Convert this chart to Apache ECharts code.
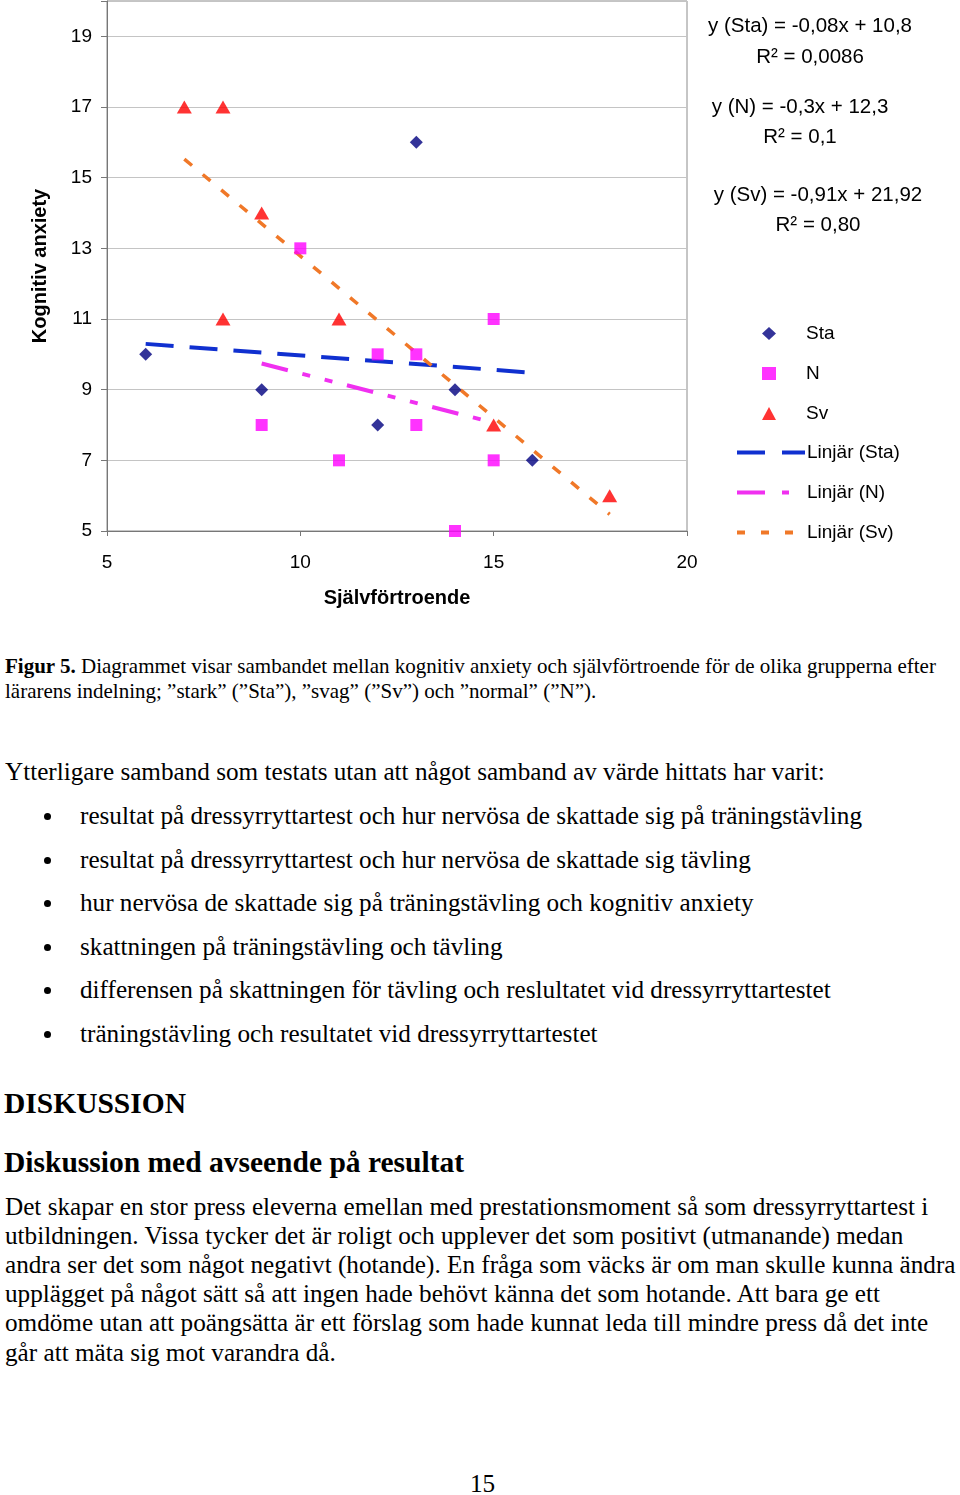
<!DOCTYPE html>
<html>
<head>
<meta charset="utf-8">
<script src="https://cdn.jsdelivr.net/npm/echarts@6/dist/echarts.min.js"></script>
<style>
  html, body { margin: 0; padding: 0; background: #fff; }
  #page { position: relative; width: 960px; height: 1495px; overflow: hidden; background: #fff; }
  #chart { position: absolute; left: 0; top: 0; width: 960px; height: 620px; }
  .t { position: absolute; white-space: nowrap; font-family: "Liberation Serif", "Times New Roman", serif; color: #000; }
  .cap { font-size: 21px; line-height: 26px; }
  .body { font-size: 25.2px; line-height: 30px; }
  .dot { position: absolute; width: 7px; height: 7px; border-radius: 50%; background: #000; }
</style>
</head>
<body>
<div id="page">
  <div id="chart"></div>

  <div class="t cap" style="left:5px; top:653px;"><b>Figur 5.</b> Diagrammet visar sambandet mellan kognitiv anxiety och självförtroende för de olika grupperna efter</div>
  <div class="t cap" style="left:5px; top:678px;">lärarens indelning; ”stark” (”Sta”), ”svag” (”Sv”) och ”normal” (”N”).</div>

  <div class="t body" style="left:5px; top:757px;">Ytterligare samband som testats utan att något samband av värde hittats har varit:</div>

  <div class="dot" style="left:44px; top:813px;"></div>
  <div class="t body" style="left:80px; top:801px;">resultat på dressyrryttartest och hur nervösa de skattade sig på träningstävling</div>
  <div class="dot" style="left:44px; top:857px;"></div>
  <div class="t body" style="left:80px; top:845px;">resultat på dressyrryttartest och hur nervösa de skattade sig tävling</div>
  <div class="dot" style="left:44px; top:900px;"></div>
  <div class="t body" style="left:80px; top:888px;">hur nervösa de skattade sig på träningstävling och kognitiv anxiety</div>
  <div class="dot" style="left:44px; top:944px;"></div>
  <div class="t body" style="left:80px; top:932px;">skattningen på träningstävling och tävling</div>
  <div class="dot" style="left:44px; top:987px;"></div>
  <div class="t body" style="left:80px; top:975px;">differensen på skattningen för tävling och reslultatet vid dressyrryttartestet</div>
  <div class="dot" style="left:44px; top:1031px;"></div>
  <div class="t body" style="left:80px; top:1019px;">träningstävling och resultatet vid dressyrryttartestet</div>

  <div class="t" style="left:4px; top:1086px; font-size:29.5px; line-height:34px; font-weight:bold;">DISKUSSION</div>
  <div class="t" style="left:4px; top:1145px; font-size:29.5px; line-height:34px; font-weight:bold;">Diskussion med avseende på resultat</div>

  <div class="t body" style="left:5px; top:1192px;">Det skapar en stor press eleverna emellan med prestationsmoment så som dressyrryttartest i</div>
  <div class="t body" style="left:5px; top:1221px;">utbildningen. Vissa tycker det är roligt och upplever det som positivt (utmanande) medan</div>
  <div class="t body" style="left:5px; top:1250px;">andra ser det som något negativt (hotande). En fråga som väcks är om man skulle kunna ändra</div>
  <div class="t body" style="left:5px; top:1279px;">upplägget på något sätt så att ingen hade behövt känna det som hotande. Att bara ge ett</div>
  <div class="t body" style="left:5px; top:1308px;">omdöme utan att poängsätta är ett förslag som hade kunnat leda till mindre press då det inte</div>
  <div class="t body" style="left:5px; top:1338px;">går att mäta sig mot varandra då.</div>

  <div class="t body" style="left:470px; top:1469px;">15</div>
</div>

<script>
// ---- data ----
const xTicks = [5, 10, 15, 20];
const yTicks = [5, 7, 9, 11, 13, 15, 17, 19];
const seriesNames = ['Sta', 'N', 'Sv'];
const trendNames = ['Linjär (Sta)', 'Linjär (N)', 'Linjär (Sv)'];
const staX = [6, 9, 12, 13, 14, 16];
const staY = [10, 9, 8, 16, 9, 7];
const nX = [9, 10, 11, 12, 13, 13, 14, 15, 15];
const nY = [8, 13, 7, 10, 10, 8, 5, 11, 7];
const svX = [7, 8, 8, 9, 11, 15, 18];
const svY = [17, 17, 11, 14, 11, 8, 6];
const eqLines = ['y (Sta) = -0,08x + 10,8', 'R² = 0,0086', 'y (N) = -0,3x + 12,3', 'R² = 0,1', 'y (Sv) = -0,91x + 21,92', 'R² = 0,80'];

function pairs(xs, ys) { return xs.map((x, i) => [x, ys[i]]); }
function trend(xs, ys) {
  const n = xs.length;
  const mx = xs.reduce((a, b) => a + b, 0) / n;
  const my = ys.reduce((a, b) => a + b, 0) / n;
  let sxy = 0, sxx = 0;
  for (let i = 0; i < n; i++) { sxy += (xs[i] - mx) * (ys[i] - my); sxx += (xs[i] - mx) ** 2; }
  const b = sxy / sxx, a = my - b * mx;
  const x0 = Math.min(...xs), x1 = Math.max(...xs);
  return [[x0, a + b * x0], [x1, a + b * x1]];
}

const FONT = '"Liberation Sans", Arial, sans-serif';
const chart = echarts.init(document.getElementById('chart'), null, { renderer: 'canvas' });

const eqPos = [[810, 26], [810, 57], [800, 107], [800, 137], [818, 195], [818, 225]];
const colors = { sta: '#000080', n: '#ff00ff', sv: '#ff0000', tSta: '#1030d0', tN: '#f030f0', tSv: '#f07828' };
const dashSta = [28, 16], dashN = [27, 15, 8, 15, 8, 15], dashSv = [10, 14];

chart.setOption({
  animation: false,
  textStyle: { fontFamily: FONT },
  grid: { left: 107, right: 273, top: 1, bottom: 89, show: true, borderColor: '#8c8c8c', borderWidth: 1 },
  xAxis: {
    type: 'value', min: xTicks[0], max: xTicks[xTicks.length - 1], interval: 5,
    axisLine: { show: true, lineStyle: { color: '#777', width: 1 } },
    axisTick: { show: true, length: 5, lineStyle: { color: '#777' } },
    axisLabel: { fontSize: 19, color: '#000', margin: 22, fontFamily: FONT },
    splitLine: { show: false },
    name: 'Självförtroende', nameLocation: 'middle', nameGap: 57,
    nameTextStyle: { fontSize: 20, fontWeight: 'bold', color: '#000', fontFamily: FONT }
  },
  yAxis: {
    type: 'value', min: yTicks[0], max: 20, interval: 2,
    axisLine: { show: true, lineStyle: { color: '#777', width: 1 } },
    axisTick: { show: true, length: 6, lineStyle: { color: '#777' } },
    axisLabel: { fontSize: 19, color: '#000', margin: 15, fontFamily: FONT,
      formatter: v => yTicks.indexOf(v) >= 0 ? String(v) : '' },
    splitLine: { show: true, lineStyle: { color: '#c4c4c4', width: 1 } },
    name: 'Kognitiv anxiety', nameLocation: 'middle', nameGap: 57,
    nameTextStyle: { fontSize: 20, fontWeight: 'bold', color: '#000', fontFamily: FONT }
  },
  legend: [
    {
      orient: 'vertical', left: 757, top: 319, itemWidth: 14, itemHeight: 13, itemGap: 21,
      textStyle: { fontSize: 19, color: '#000', fontFamily: FONT, padding: [0, 0, 0, 25] },
      data: [
        { name: seriesNames[0], icon: 'diamond' },
        { name: seriesNames[1], icon: 'rect' },
        { name: seriesNames[2], icon: 'triangle' }
      ]
    },
    {
      orient: 'vertical', left: 730, top: 438, itemWidth: 68, itemHeight: 13, itemGap: 21,
      textStyle: { fontSize: 19, color: '#000', fontFamily: FONT, padding: [0, 0, 0, -3] },
      data: [
        { name: trendNames[0], itemStyle: { opacity: 0 }, lineStyle: { width: 4, type: [28, 17] } },
        { name: trendNames[1], itemStyle: { opacity: 0 }, lineStyle: { width: 4, type: [28, 17, 7, 30] } },
        { name: trendNames[2], itemStyle: { opacity: 0 }, lineStyle: { width: 4, type: [8, 16] } }
      ]
    }
  ],
  graphic: eqLines.map((t, i) => ({
    type: 'text', x: eqPos[i][0], y: eqPos[i][1],
    style: { text: t, font: '20.5px ' + FONT, fill: '#000', textAlign: 'center', textVerticalAlign: 'middle' }
  })),
  series: [
    { name: seriesNames[0], type: 'scatter', symbol: 'diamond', symbolSize: 13, itemStyle: { color: colors.sta }, data: pairs(staX, staY), z: 5 },
    { name: seriesNames[1], type: 'scatter', symbol: 'rect', symbolSize: 12, itemStyle: { color: colors.n }, data: pairs(nX, nY), z: 5 },
    { name: seriesNames[2], type: 'scatter', symbol: 'triangle', symbolSize: [15, 13], itemStyle: { color: colors.sv }, data: pairs(svX, svY), z: 5 },
    { name: trendNames[0], type: 'line', symbol: 'none', showSymbol: false, data: trend(staX, staY), z: 3,
      itemStyle: { color: colors.tSta }, lineStyle: { color: colors.tSta, width: 4, type: dashSta } },
    { name: trendNames[1], type: 'line', symbol: 'none', showSymbol: false, data: trend(nX, nY), z: 3,
      itemStyle: { color: colors.tN }, lineStyle: { color: colors.tN, width: 4, type: dashN } },
    { name: trendNames[2], type: 'line', symbol: 'none', showSymbol: false, data: trend(svX, svY), z: 3,
      itemStyle: { color: colors.tSv }, lineStyle: { color: colors.tSv, width: 3.5, type: dashSv } }
  ]
});
</script>
</body>
</html>
